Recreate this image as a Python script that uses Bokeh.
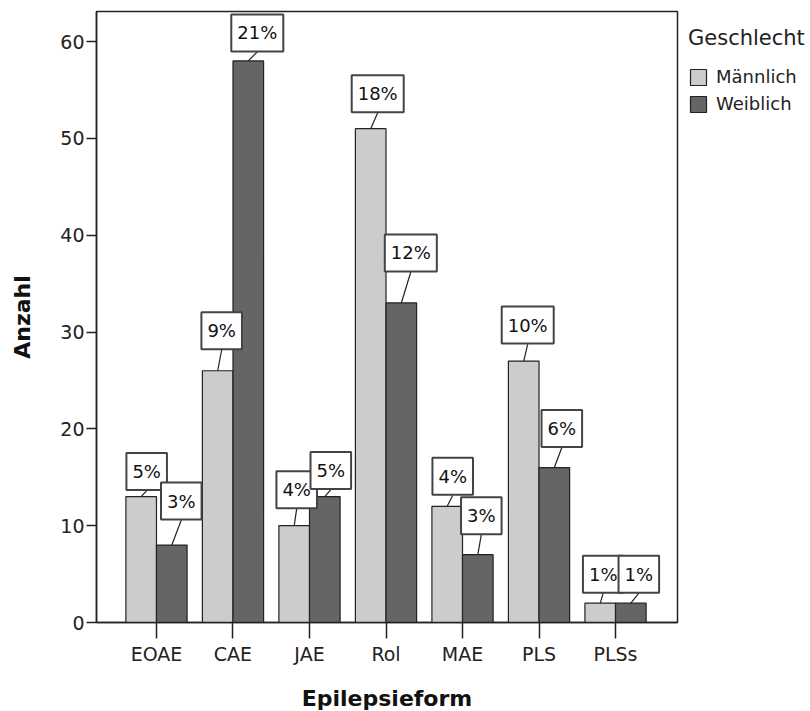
from bokeh.plotting import figure
from bokeh.models import ColumnDataSource, FixedTicker, Range1d, Legend, LegendItem
from bokeh.embed import file_html
from bokeh.resources import INLINE

# ---- data ----
categories = ["EOAE", "CAE", "JAE", "Rol", "MAE", "PLS", "PLSs"]
maennlich = [13, 26, 10, 51, 12, 27, 2]
weiblich = [8, 58, 13, 33, 7, 16, 2]
pct_m = ["5%", "9%", "4%", "18%", "4%", "10%", "1%"]
pct_w = ["3%", "21%", "5%", "12%", "3%", "6%", "1%"]
y_ticks = [0, 10, 20, 30, 40, 50, 60]

# ---- label layout (screen px): horizontal shift of box, gap box-bottom -> bar top ----
lab_dx_m = [5.5, 4, 2.5, 7, 5.5, 4, 3]
lab_gap_m = [6, 21, 17, 16, 11, 17, 10]
lab_dx_w = [9.5, 9, 6, 9.5, 3.5, 7.5, 8]
lab_gap_w = [25, 9, 7, 31, 20, 20, 10]

FONT = "DejaVu Sans"
B_L, B_R, B_T, B_B = 96, 133, 11, 89
FRAME_W, FRAME_H = 581, 611
X0, X1 = -0.784, 6.81
Y0, Y1 = 0, 63.1
BOX_H = 38
px_x = (X1 - X0) / FRAME_W
px_y = (Y1 - Y0) / FRAME_H
BAR_W = 0.4

p = figure(frame_width=FRAME_W, frame_height=FRAME_H,
           x_range=Range1d(X0, X1), y_range=Range1d(Y0, Y1),
           output_backend="svg", toolbar_location=None,
           min_border_left=B_L, min_border_top=B_T, min_border_bottom=B_B,
           min_border_right=B_R)
p.xgrid.visible = False
p.ygrid.visible = False
p.outline_line_color = "#222222"
p.outline_line_width = 1.5
p.background_fill_color = "white"
p.border_fill_color = "white"

idx = list(range(len(categories)))
xm = [i - BAR_W / 2 for i in idx]
xw = [i + BAR_W / 2 for i in idx]

src_m = ColumnDataSource(dict(x=xm, top=maennlich, lab=pct_m, dx=lab_dx_m,
                              dy=[-(g + BOX_H / 2) for g in lab_gap_m],
                              lx0=[x + d * px_x for x, d in zip(xm, lab_dx_m)],
                              ly0=[v + g * px_y for v, g in zip(maennlich, lab_gap_m)]))
src_w = ColumnDataSource(dict(x=xw, top=weiblich, lab=pct_w, dx=lab_dx_w,
                              dy=[-(g + BOX_H / 2) for g in lab_gap_w],
                              lx0=[x + d * px_x for x, d in zip(xw, lab_dx_w)],
                              ly0=[v + g * px_y for v, g in zip(weiblich, lab_gap_w)]))

r_m = p.vbar(x="x", top="top", bottom=0, width=BAR_W, source=src_m,
             fill_color="#cccccc", line_color="#222222", line_width=1.2)
r_w = p.vbar(x="x", top="top", bottom=0, width=BAR_W, source=src_w,
             fill_color="#656565", line_color="#222222", line_width=1.2)

for src in (src_m, src_w):
    p.segment(x0="lx0", y0="ly0", x1="x", y1="top", source=src,
              line_color="#222222", line_width=1.2)
    p.text(x="x", y="top", text="lab", x_offset="dx", y_offset="dy", source=src,
           text_align="center", text_baseline="middle",
           text_font={"value": FONT}, text_font_size="18px", text_color="#111111",
           background_fill_color="white", border_line_color="#444444",
           border_line_width=2, padding=(6, 8))

# axes
p.yaxis.ticker = FixedTicker(ticks=y_ticks)
p.yaxis.minor_tick_line_color = None
p.yaxis.major_tick_in = 0
p.yaxis.major_tick_out = 10
p.yaxis.major_label_standoff = 2
p.yaxis.axis_label = "Anzahl"
p.yaxis.axis_label_standoff = 22

p.xaxis.ticker = FixedTicker(ticks=idx)
p.xaxis.major_label_overrides = {i: c for i, c in zip(idx, categories)}
p.xaxis.minor_tick_line_color = None
p.xaxis.major_tick_in = 0
p.xaxis.major_tick_out = 16
p.xaxis.major_label_standoff = 4
p.xaxis.axis_label = "Epilepsieform"
p.xaxis.axis_label_standoff = 18

for ax in (p.xaxis, p.yaxis):
    ax.axis_line_color = "#222222"
    ax.axis_line_width = 1.5
    ax.major_tick_line_color = "#222222"
    ax.major_tick_line_width = 1.5
    ax.major_label_text_font = FONT
    ax.major_label_text_font_size = "19px"
    ax.major_label_text_color = "#222222"
    ax.axis_label_text_font = FONT
    ax.axis_label_text_font_size = "22px"
    ax.axis_label_text_font_style = "bold"
    ax.axis_label_text_color = "#111111"

legend = Legend(items=[LegendItem(label="Männlich", renderers=[r_m]),
                       LegendItem(label="Weiblich", renderers=[r_w])],
                title="Geschlecht", location=(11, 508))
legend.title_text_font = FONT
legend.title_text_font_size = "21px"
legend.title_text_font_style = "normal"
legend.title_text_color = "#222222"
legend.title_standoff = 16
legend.label_text_font = FONT
legend.label_text_font_size = "18px"
legend.label_text_color = "#222222"
legend.glyph_width = 20
legend.glyph_height = 20
legend.spacing = 6
legend.label_standoff = 8
legend.label_height = 20
legend.margin = 0
legend.padding = 0
legend.border_line_color = None
legend.background_fill_alpha = 0
p.add_layout(legend, "right")

open("out.html", "w").write(file_html(p, INLINE))
